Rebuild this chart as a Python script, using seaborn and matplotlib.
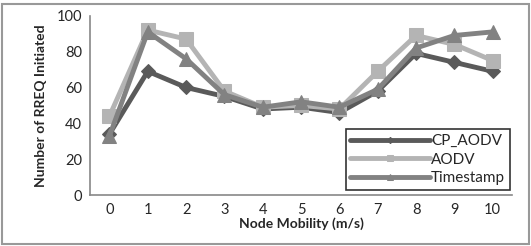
import matplotlib
matplotlib.use("Agg")
import matplotlib.pyplot as plt
import seaborn as sns
import pandas as pd
from matplotlib.patches import Rectangle

mobility = list(range(11))
cp_aodv = [34, 69, 60, 55, 48, 49, 46, 58, 79, 74, 69]
aodv = [44, 92, 87, 58, 49, 50, 48, 69, 89, 84, 75]
timestamp = [33, 91, 76, 56, 49, 52, 49, 59, 82, 89, 91]
series_names = ["CP_AODV", "AODV", "Timestamp"]

df = pd.DataFrame({
    "x": mobility * 3,
    "y": cp_aodv + aodv + timestamp,
    "series": [series_names[0]] * 11 + [series_names[1]] * 11 + [series_names[2]] * 11,
})

sns.set_style("white")
plt.rcParams["font.family"] = ["Lato", "DejaVu Sans"]

fig = plt.figure(figsize=(5.31, 2.46), dpi=100)
ax = fig.add_axes([0.170, 0.207, 0.794, 0.729])

palette = {"CP_AODV": "#5a5a5a", "AODV": "#b4b4b4", "Timestamp": "#828282"}
markers = {"CP_AODV": "D", "AODV": "s", "Timestamp": "^"}
sizes = {"CP_AODV": 7, "AODV": 10, "Timestamp": 10}

for name in series_names:
    sub = df[df["series"] == name]
    sns.lineplot(data=sub, x="x", y="y", ax=ax, color=palette[name],
                 marker=markers[name], markersize=sizes[name],
                 markeredgecolor=palette[name], linewidth=3.5, label=name)

ax.set_xlim(-0.5, 10.5)
ax.set_ylim(0, 100)
ax.set_xticks(mobility)
ax.set_xticklabels([str(v) for v in mobility])
ax.set_yticks([0, 20, 40, 60, 80, 100])
ax.tick_params(axis="both", length=0, labelsize=10.5, pad=6)
ax.set_xlabel("Node Mobility (m/s)", fontsize=10, fontweight="bold", labelpad=0)
ax.set_ylabel("Number of RREQ Initiated", fontsize=10, fontweight="bold", labelpad=7)
for s in ["top", "right"]:
    ax.spines[s].set_visible(False)
for s in ["left", "bottom"]:
    ax.spines[s].set_color("#888888")
    ax.spines[s].set_linewidth(1.2)

leg = ax.legend(loc="lower right", bbox_to_anchor=(0.995, 0.03), fontsize=11,
                frameon=True, fancybox=False, edgecolor="black",
                handlelength=5.2, handletextpad=0.1, borderpad=0.3,
                labelspacing=0.3, borderaxespad=0, markerscale=0.45)
leg.get_frame().set_linewidth(1.2)

fig.patches.append(Rectangle((0.004, 0.008), 0.992, 0.975, transform=fig.transFigure,
                             fill=False, edgecolor="#999999", linewidth=1.5))

fig.savefig("out.png", dpi=100)
